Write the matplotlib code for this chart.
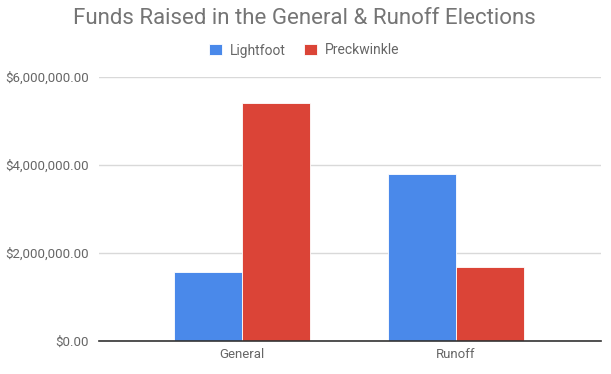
import matplotlib
matplotlib.use("Agg")
import matplotlib.pyplot as plt
import numpy as np
from matplotlib.ticker import FuncFormatter

categories = ["General", "Runoff"]
series_names = ["Lightfoot", "Preckwinkle"]
lightfoot = [1570000, 3790000]
preckwinkle = [5400000, 1690000]
yticks = [0, 2000000, 4000000, 6000000]

colors = ["#4a89ea", "#db4437"]

plt.rcParams['font.family'] = ['Roboto', 'DejaVu Sans']

fig = plt.figure(figsize=(6.11, 3.74), dpi=100)
ax = fig.add_axes([98.7/611, 1-341/374, (601-98.7)/611, (341-76.7)/374])

x = np.arange(len(categories))
w = 0.318
ax.bar(x - w/2, lightfoot, width=w, color=colors[0], edgecolor="white", linewidth=0.6, label=series_names[0], zorder=3)
ax.bar(x + w/2, preckwinkle, width=w, color=colors[1], edgecolor="white", linewidth=0.6, label=series_names[1], zorder=3)

ax.set_xlim(-0.668, 1.678)
ax.set_ylim(0, 6000000)
ax.set_yticks(yticks)
ax.yaxis.set_major_formatter(FuncFormatter(lambda v, p: "${:,.2f}".format(v)))
ax.set_xticks(x)
ax.set_xticklabels(categories)
ax.tick_params(axis='both', length=0, labelsize=9.5, colors="#666666")
ax.tick_params(axis='y', pad=7)
ax.tick_params(axis='x', pad=5)
ax.grid(axis='y', color="#d9d9d9", linewidth=1, zorder=0)
for s in ["top", "right", "left"]:
    ax.spines[s].set_visible(False)
ax.spines["bottom"].set_color("#333333")
ax.spines["bottom"].set_linewidth(1.2)
ax.spines["bottom"].set_zorder(4)

fig.text(304/611, 1-19/374, "Funds Raised in the General & Runoff Elections",
         ha="center", va="center", fontsize=16, color="#757575")

leg = fig.legend(loc="center", bbox_to_anchor=(304.5/611, 1-50.5/374), ncol=2, frameon=False,
                 fontsize=10, handlelength=0.9, handleheight=0.9, handletextpad=0.6,
                 columnspacing=1.3, labelcolor="#666666")

fig.savefig("out.png", dpi=100)
